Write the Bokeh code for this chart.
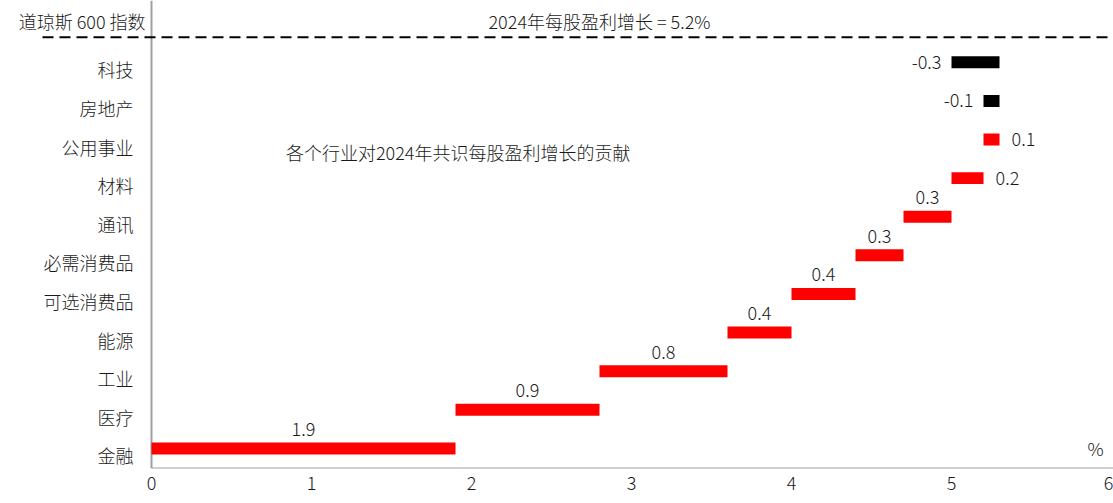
from bokeh.plotting import figure
from bokeh.models import Range1d, FixedTicker, ColumnDataSource, Label
from bokeh.core.properties import value
from bokeh.embed import file_html
from bokeh.resources import INLINE

# Sector contributions to 2024 consensus EPS growth (percentage points)
sectors = ["金融", "医疗", "工业", "能源", "可选消费品", "必需消费品",
           "通讯", "材料", "公用事业", "房地产", "科技"]
contrib = [1.9, 0.9, 0.8, 0.4, 0.4, 0.3, 0.3, 0.2, 0.1, -0.1, -0.3]
index_name = "道琼斯 600 指数"
eps_growth = 5.2
x_ticks = [0, 1, 2, 3, 4, 5, 6]

FONT = "Noto Sans CJK SC Light, Noto Sans CJK SC"
FS = "18px"
INK = "#1a1a1a"

# waterfall: positives stack from zero, negatives hang off the positive total
lefts, rights = [], []
run = 0.0
for v in contrib:
    if v >= 0:
        lefts.append(run)
        run += v
        rights.append(run)
pos_total = run
for v in contrib:
    if v < 0:
        lefts.append(pos_total + v)
        rights.append(pos_total)

ys = list(range(len(sectors)))
colors = ["#ff0000" if v >= 0 else "#000000" for v in contrib]
src = ColumnDataSource(dict(y=ys, left=lefts, right=rights, color=colors,
                            name=sectors, val=contrib,
                            txt=[f"{v:.1f}" for v in contrib]))

header_y = len(sectors)
px_per_unit = 160.0
x_start = -151 / px_per_unit
x_end = 962 / px_per_unit
y_start, y_end = -0.52, header_y + 0.6

p = figure(width=1113, height=503, output_backend="svg", toolbar_location=None,
           x_range=Range1d(x_start, x_end), y_range=Range1d(y_start, y_end),
           min_border_left=0, min_border_right=0, min_border_top=0,
           min_border_bottom=35)
p.outline_line_color = None
p.grid.visible = False
p.background_fill_color = "white"
p.border_fill_color = "white"

p.yaxis.visible = False
xa = p.xaxis[0]
xa.ticker = FixedTicker(ticks=x_ticks)
xa.axis_line_color = None
xa.major_tick_line_color = None
xa.minor_tick_line_color = None
xa.major_tick_out = 0
xa.major_tick_in = 0
xa.major_label_standoff = 8
xa.major_label_text_font = FONT
xa.major_label_text_font_size = FS
xa.major_label_text_color = INK

# axis lines
p.segment(x0=[0, 0], y0=[y_start, y_start], x1=[x_end, 0], y1=[y_start, y_end],
          line_color="#a0a0a0", line_width=2)

# separator for the index total
p.segment(x0=[-109 / px_per_unit], y0=[header_y - 0.35], x1=[x_end],
          y1=[header_y - 0.35], line_color="#000000", line_width=2,
          line_dash="11 6")

p.hbar(y="y", left="left", right="right", height=0.31, fill_color="color",
       line_color=None, source=src)

# value labels
above = dict(x=[], y=[], t=[])
right_l = dict(x=[], y=[], t=[])
left_l = dict(x=[], y=[], t=[])
for v, l, r, y, t in zip(contrib, lefts, rights, ys, src.data["txt"]):
    if v >= 0.3:
        above["x"].append((l + r) / 2); above["y"].append(y); above["t"].append(t)
    elif v >= 0:
        right_l["x"].append(r); right_l["y"].append(y); right_l["t"].append(t)
    else:
        left_l["x"].append(l); left_l["y"].append(y); left_l["t"].append(t)

common = dict(text_font=value(FONT), text_font_size=FS, text_color=INK)
p.text(x=above["x"], y=above["y"], text=above["t"], text_align="center",
       text_baseline="middle", y_offset=-19, **common)
p.text(x=right_l["x"], y=right_l["y"], text=right_l["t"], text_align="left",
       text_baseline="middle", x_offset=12, **common)
p.text(x=left_l["x"], y=left_l["y"], text=left_l["t"], text_align="right",
       text_baseline="middle", x_offset=-10, **common)

# category labels
p.text(x=[0] * len(sectors), y=ys, text=sectors, text_align="right",
       text_baseline="middle", x_offset=-18, y_offset=7,
       text_font=value(FONT), text_font_size=FS, text_color=INK)
p.text(x=[0], y=[header_y], text=[index_name], text_align="right",
       text_baseline="middle", x_offset=-6, y_offset=-3,
       text_font=value(FONT), text_font_size=FS, text_color=INK)

p.add_layout(Label(x=2.8, y=header_y, text=f"2024年每股盈利增长 = {eps_growth}%",
                   text_align="center", text_baseline="middle", y_offset=3,
                   text_font=FONT, text_font_size=FS, text_color=INK))
p.add_layout(Label(x=0.84, y=7.67, text="各个行业对2024年共识每股盈利增长的贡献",
                   text_align="left", text_baseline="middle",
                   text_font=FONT, text_font_size=FS, text_color=INK))
p.add_layout(Label(x=5.9, y=0, text="%", text_align="center",
                   text_baseline="middle", text_font=FONT,
                   text_font_size=FS, text_color=INK))

open("out.html", "w").write(file_html(p, INLINE))
